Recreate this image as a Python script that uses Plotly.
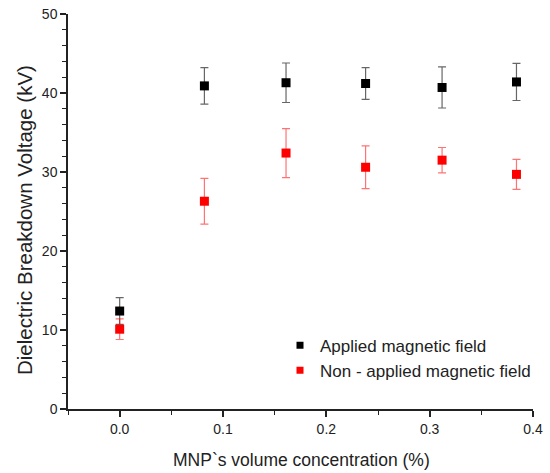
import plotly.graph_objects as go

conc = [0.0, 0.082, 0.161, 0.238, 0.312, 0.384]
applied = [12.4, 40.9, 41.3, 41.2, 40.7, 41.4]
applied_err = [1.7, 2.3, 2.5, 2.0, 2.6, 2.35]
non_applied = [10.1, 26.3, 32.4, 30.6, 31.5, 29.7]
non_applied_err = [1.3, 2.9, 3.1, 2.7, 1.6, 1.9]
series_names = ["Applied magnetic field", "Non - applied magnetic field"]
series_colors = ["black", "red"]
err_colors = ["rgba(0,0,0,0.6)", "rgba(255,0,0,0.55)"]
x_title = "MNP`s volume concentration (%)"
y_title = "Dielectric Breakdown Voltage (kV)"

font = "Liberation Sans, Arial, sans-serif"
W, H = 550, 473
L, T = 68, 14
pw, ph = 465, 395
R, B = W - L - pw, H - T - ph

fig = go.Figure()
for name, ys, errs, col, ecol in zip(series_names, [applied, non_applied],
                                     [applied_err, non_applied_err],
                                     series_colors, err_colors):
    fig.add_trace(go.Scatter(
        x=conc, y=ys, mode="markers", name=name, showlegend=False,
        marker=dict(symbol="square", size=9, color=col),
        error_y=dict(type="data", array=errs, visible=True,
                     color=ecol, thickness=1.2, width=4),
    ))
# legend-only entries with smaller symbols
for name, col in zip(series_names, series_colors):
    fig.add_trace(go.Scatter(
        x=[None], y=[None], mode="markers", name=name, showlegend=True,
        marker=dict(symbol="square", size=7, color=col),
    ))


def px_x(px):
    return (px - L) / pw


def px_y(py):
    return 1 - (py - T) / ph


fig.update_layout(
    width=W, height=H,
    margin=dict(l=L, r=R, t=T, b=B, autoexpand=False),
    paper_bgcolor="white", plot_bgcolor="white",
    font=dict(family=font, color="#222", size=14),
    showlegend=True,
    legend=dict(x=px_x(280), y=0.206, xanchor="left", yanchor="top",
                font=dict(size=17, family=font), bgcolor="rgba(0,0,0,0)"),
    annotations=[
        dict(text=x_title, xref="paper", yref="paper",
             x=px_x(301), y=px_y(460),
             xanchor="center", yanchor="middle", showarrow=False,
             font=dict(size=17.5, family=font, color="#222")),
        dict(text=y_title, xref="paper", yref="paper", textangle=-90,
             x=px_x(24), y=px_y(220),
             xanchor="center", yanchor="middle", showarrow=False,
             font=dict(size=20.5, family=font, color="#222")),
    ],
)
fig.update_xaxes(
    range=[-0.05, 0.4], tickvals=[0.0, 0.1, 0.2, 0.3, 0.4],
    ticktext=["0.0", "0.1", "0.2", "0.3", "0.4"], automargin=False,
    showgrid=False, zeroline=False, showline=True, linecolor="#222", linewidth=1.5,
    ticks="outside", ticklen=6, tickwidth=1.5, tickcolor="#222",
    minor=dict(tickvals=[-0.05, 0.05, 0.15, 0.25, 0.35], ticks="outside", ticklen=4, tickwidth=1.2, tickcolor="#222"),
    tickfont=dict(size=14),
)
fig.update_yaxes(
    range=[0, 50], tickvals=[0, 10, 20, 30, 40, 50], automargin=False,
    showgrid=False, zeroline=False, showline=True, linecolor="#222", linewidth=1.5,
    ticks="outside", ticklen=6, tickwidth=1.5, tickcolor="#222",
    minor=dict(dtick=2, ticks="outside", ticklen=4, tickwidth=1.2, tickcolor="#222"),
    tickfont=dict(size=14),
)

fig.write_html("out.html", config={"displayModeBar": False},
               post_script="document.body.style.margin='0';")
